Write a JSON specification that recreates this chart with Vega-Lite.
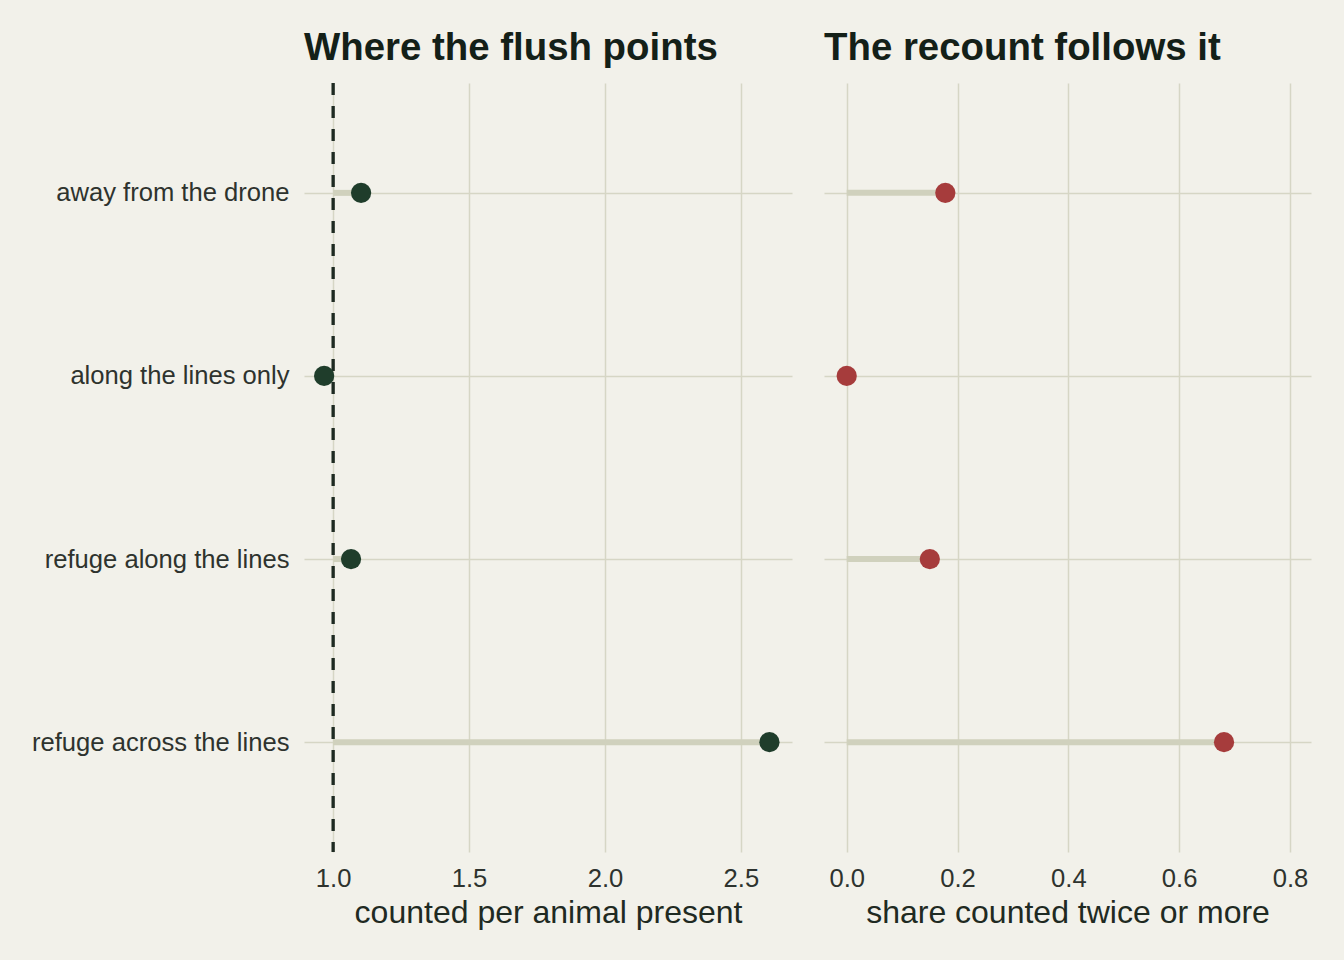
{
  "$schema": "https://vega.github.io/schema/vega-lite/v6.json",
  "background": "#f2f1ea",
  "padding": {"left": 31, "top": 28, "right": 33, "bottom": 32},
  "config": {
    "view": {"stroke": null},
    "font": "Liberation Sans",
    "axis": {
      "grid": true,
      "gridColor": "#d6d6c5",
      "gridWidth": 1.5,
      "domain": false,
      "ticks": false,
      "labelFontSize": 25.6,
      "labelLimit": 500,
      "labelColor": "#2e332e",
      "titleFontSize": 32,
      "titleFontWeight": "normal",
      "titleColor": "#1f2a22"
    },
    "title": {"fontSize": 38.4, "fontWeight": "bold", "color": "#142018", "anchor": "start", "frame": "group", "offset": 15}
  },
  "data": {
    "values": [
      {"category": "away from the drone", "ratio": 1.103, "share": 0.178},
      {"category": "along the lines only", "ratio": 0.967, "share": 0.0},
      {"category": "refuge along the lines", "ratio": 1.066, "share": 0.150},
      {"category": "refuge across the lines", "ratio": 2.605, "share": 0.681}
    ]
  },
  "spacing": 32,
  "hconcat": [
    {
      "width": 488,
      "height": 769,
      "title": {"text": "Where the flush points", "dy": 2},
      "encoding": {
        "y": {
          "field": "category",
          "type": "nominal",
          "sort": ["away from the drone", "along the lines only", "refuge along the lines", "refuge across the lines"],
          "scale": {"type": "point", "padding": 0.6},
          "axis": {"title": null, "labelPadding": 15}
        }
      },
      "layer": [
        {
          "mark": {"type": "rule", "strokeWidth": 6, "color": "#d0d1bd"},
          "encoding": {
            "x": {
              "field": "ratio",
              "type": "quantitative",
              "scale": {"domain": [0.893, 2.688], "nice": false, "zero": false},
              "axis": {"values": [1, 1.5, 2, 2.5], "format": ".1f", "title": "counted per animal present", "labelPadding": 14, "titlePadding": 6}
            },
            "x2": {"datum": 1}
          }
        },
        {
          "mark": {"type": "rule", "strokeWidth": 2.5, "strokeDash": [12, 11], "color": "#1e2a22"},
          "encoding": {"x": {"datum": 1}, "y": null}
        },
        {
          "mark": {"type": "point", "filled": true, "shape": "circle", "size": 410, "opacity": 1, "color": "#1f3d2b"},
          "encoding": {"x": {"field": "ratio", "type": "quantitative"}}
        }
      ]
    },
    {
      "width": 487,
      "height": 769,
      "title": {"text": "The recount follows it"},
      "encoding": {
        "y": {
          "field": "category",
          "type": "nominal",
          "sort": ["away from the drone", "along the lines only", "refuge along the lines", "refuge across the lines"],
          "scale": {"type": "point", "padding": 0.6},
          "axis": {"title": null, "labels": false, "minExtent": 0}
        }
      },
      "layer": [
        {
          "mark": {"type": "rule", "strokeWidth": 6, "color": "#d0d1bd"},
          "encoding": {
            "x": {
              "field": "share",
              "type": "quantitative",
              "scale": {"domain": [-0.041, 0.838], "nice": false, "zero": false},
              "axis": {"values": [0, 0.2, 0.4, 0.6, 0.8], "format": ".1f", "title": "share counted twice or more", "labelPadding": 14, "titlePadding": 6}
            },
            "x2": {"datum": 0}
          }
        },
        {
          "mark": {"type": "point", "filled": true, "shape": "circle", "size": 410, "opacity": 1, "color": "#a63c3c"},
          "encoding": {"x": {"field": "share", "type": "quantitative"}}
        }
      ]
    }
  ]
}
